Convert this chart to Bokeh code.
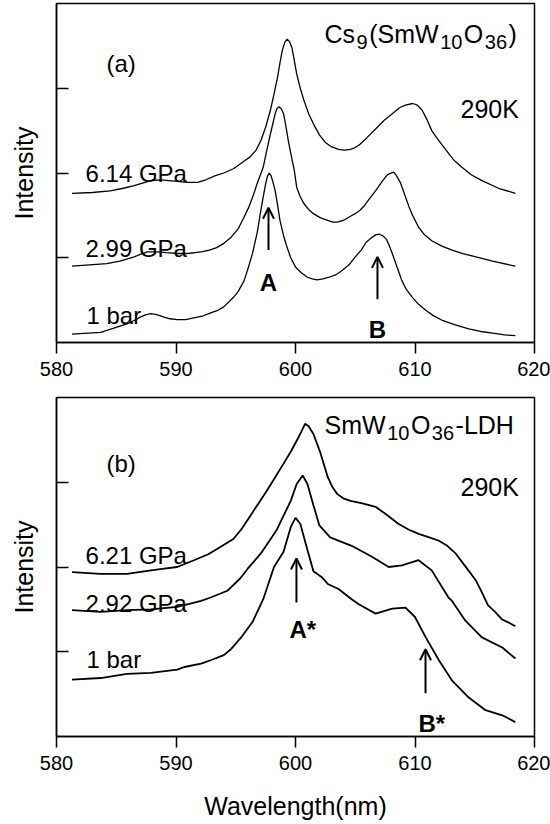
from bokeh.plotting import figure
from bokeh.models import Label, Arrow, OpenHead
from bokeh.layouts import column
from bokeh.embed import file_html
from bokeh.resources import INLINE

FONT = "Liberation Sans"

# ---------------- panel (a): Cs9(SmW10O36), 290K ----------------
a_bar_x = [581.3, 583.7, 585.9, 586.5, 587.0, 587.5, 587.9, 588.4, 589.0, 589.5, 590.1,
           590.8, 591.5, 592.2, 592.9, 593.5, 594.0, 594.8, 595.2, 595.7, 596.0, 596.4,
           596.8, 597.1, 597.3, 597.5, 597.65, 597.8, 597.95, 598.1, 598.3, 598.5, 598.7,
           599.0, 599.3, 599.6, 600.0, 600.5, 601.0, 601.4, 601.8, 602.3, 602.8, 603.4,
           603.9, 604.5, 605.0, 605.5, 605.9, 606.3, 606.7, 607.0, 607.3, 607.6, 607.8,
           608.1, 608.4, 608.6, 608.9, 609.3, 609.8, 610.3, 610.9, 611.5, 612.3, 613.3,
           614.5, 615.5, 616.5, 617.5, 618.4]
a_bar_y = [0.10, 0.12, 0.22, 0.26, 0.30, 0.33, 0.34, 0.33, 0.30, 0.28, 0.27,
           0.27, 0.29, 0.31, 0.35, 0.38, 0.42, 0.53, 0.60, 0.73, 0.86, 1.05,
           1.30, 1.56, 1.72, 1.87, 1.96, 2.00, 1.97, 1.90, 1.79, 1.62, 1.44,
           1.26, 1.12, 1.00, 0.89, 0.82, 0.77, 0.75, 0.74, 0.75, 0.77, 0.80,
           0.85, 0.92, 1.01, 1.09, 1.18, 1.23, 1.27, 1.28, 1.26, 1.22, 1.16,
           1.05, 0.93, 0.85, 0.73, 0.62, 0.53, 0.45, 0.38, 0.32, 0.26, 0.21,
           0.16, 0.13, 0.11, 0.09, 0.08]

a_299_x = [581.3, 584.2, 585.3, 586.5, 587.0, 587.6, 588.4, 589.2, 590.1, 591.0, 592.1,
           592.8, 593.4, 594.0, 594.6, 595.2, 595.7, 596.1, 596.5, 596.8, 597.1, 597.3,
           597.6, 597.9, 598.3, 598.45, 598.6, 598.8, 599.0, 599.2, 599.4, 599.65, 599.9,
           600.1, 600.4, 600.7, 601.1, 601.5, 602.1, 602.7, 603.1, 603.5, 604.0, 604.6,
           605.0, 605.4, 605.8, 606.1, 606.7, 607.0, 607.3, 607.7, 608.2, 608.4, 608.6,
           608.8, 609.0, 609.5, 609.8, 610.3, 610.8, 611.4, 612.2, 613.1, 614.0, 615.1,
           616.5, 618.4]
a_299_y = [0.90, 0.93, 0.96, 1.01, 1.04, 1.07, 1.07, 1.06, 1.05, 1.05, 1.07,
           1.09, 1.12, 1.17, 1.24, 1.34, 1.48, 1.60, 1.75, 1.88, 1.99, 2.07,
           2.27, 2.46, 2.70, 2.76, 2.78, 2.76, 2.70, 2.55, 2.38, 2.20, 2.03,
           1.83, 1.72, 1.64, 1.57, 1.52, 1.47, 1.44, 1.42, 1.42, 1.44, 1.49,
           1.52, 1.56, 1.62, 1.68, 1.79, 1.85, 1.91, 1.98, 2.01, 1.98, 1.93,
           1.88, 1.80, 1.60, 1.50, 1.36, 1.27, 1.20, 1.14, 1.09, 1.05, 1.01,
           0.96, 0.90]

a_614_x = [581.3, 583.0, 584.5, 585.6, 586.5, 587.2, 587.9, 588.7, 589.4, 590.1, 590.9,
           591.8, 592.5, 593.3, 594.0, 594.8, 595.4, 595.8, 596.2, 596.7, 597.1, 597.5,
           597.9, 598.2, 598.5, 598.7, 598.9, 599.1, 599.3, 599.5, 599.7, 599.9, 600.1,
           600.4, 600.7, 601.1, 601.5, 602.0, 602.5, 603.0, 603.6, 604.1, 604.6, 605.0,
           605.4, 606.0, 606.7, 607.4, 608.1, 608.7, 609.2, 609.8, 610.2, 610.6, 611.0,
           611.4, 611.9, 612.6, 613.2, 613.9, 614.7, 615.6, 617.0, 618.4]
a_614_y = [1.76, 1.77, 1.79, 1.82, 1.85, 1.88, 1.91, 1.92, 1.91, 1.90, 1.89,
           1.89, 1.92, 1.97, 2.00, 2.05, 2.11, 2.15, 2.19, 2.27, 2.38, 2.54,
           2.74, 2.93, 3.13, 3.30, 3.45, 3.54, 3.58, 3.55, 3.48, 3.33, 3.17,
           3.00, 2.86, 2.70, 2.58, 2.45, 2.36, 2.31, 2.28, 2.27, 2.28, 2.30,
           2.34, 2.42, 2.52, 2.62, 2.70, 2.77, 2.80, 2.82, 2.80, 2.74, 2.63,
           2.50, 2.40, 2.27, 2.16, 2.07, 1.98, 1.91, 1.82, 1.76]

# ---------------- panel (b): SmW10O36-LDH, 290K ----------------
b_bar_x = [581.3, 583.7, 585.9, 587.9, 590.1, 590.7, 592.1, 592.9, 594.0, 594.6, 595.4,
           596.4, 597.3, 598.2, 599.0, 599.6, 600.0, 600.4, 601.0, 601.5, 602.2, 602.7,
           603.6, 604.7, 605.3, 606.7, 608.1, 609.2, 610.0, 610.9, 612.0, 613.1, 614.5,
           615.9, 617.3, 618.4]
b_bar_y = [0.67, 0.69, 0.74, 0.75, 0.79, 0.82, 0.86, 0.90, 0.96, 1.03, 1.16,
           1.35, 1.62, 2.00, 2.18, 2.47, 2.58, 2.51, 2.20, 1.95, 1.88, 1.80,
           1.74, 1.62, 1.56, 1.45, 1.51, 1.52, 1.41, 1.17, 0.90, 0.66, 0.46,
           0.31, 0.25, 0.17]

b_292_x = [581.3, 583.7, 585.9, 587.9, 590.1, 590.7, 592.1, 592.9, 594.3, 594.6, 595.4,
           596.0, 597.1, 598.4, 599.6, 600.1, 600.6, 601.0, 601.5, 602.0, 602.9, 604.7,
           606.4, 607.8, 608.9, 610.3, 611.4, 612.8, 613.1, 614.2, 615.6, 617.3, 618.4]
b_292_y = [1.49, 1.47, 1.49, 1.50, 1.53, 1.55, 1.60, 1.64, 1.72, 1.76, 1.87,
           1.98, 2.16, 2.43, 2.78, 2.98, 3.08, 2.98, 2.73, 2.49, 2.35, 2.25,
           2.12, 2.00, 2.02, 2.08, 1.96, 1.64, 1.60, 1.37, 1.17, 1.05, 0.92]

b_621_x = [581.3, 583.7, 585.9, 587.9, 589.0, 590.1, 591.5, 592.7, 593.4, 594.8, 595.5,
           596.2, 596.9, 597.6, 598.3, 599.0, 599.6, 600.1, 600.5, 600.8, 601.1, 601.5,
           602.1, 602.7, 603.1, 603.5, 604.0, 604.6, 605.6, 606.7, 607.6, 608.6, 609.5,
           610.3, 611.2, 612.0, 612.7, 613.4, 614.2, 615.1, 615.6, 616.1, 616.7, 617.3,
           617.9, 618.4]
b_621_y = [1.94, 1.92, 1.92, 1.96, 1.98, 2.00, 2.08, 2.15, 2.21, 2.33, 2.45,
           2.60, 2.75, 2.90, 3.06, 3.22, 3.36, 3.49, 3.60, 3.69, 3.66, 3.57,
           3.34, 3.06, 2.94, 2.86, 2.81, 2.78, 2.75, 2.71, 2.62, 2.51, 2.44,
           2.39, 2.35, 2.31, 2.25, 2.16, 2.01, 1.84, 1.70, 1.55, 1.47, 1.38,
           1.34, 1.30]

x_ticks = [580, 590, 600, 610, 620]
y_ticks = [1, 2, 3]

W = {'C': .722, 's': .5, '(': .333, ')': .333, 'S': .667, 'm': .833, 'W': .944,
     'O': .778, '-': .333, 'L': .556, 'D': .722, 'H': .722}
for d in "0123456789":
    W[d] = .556


def make_fig(top, bottom, xlabel):
    p = figure(frame_width=478, frame_height=339, min_border_left=56, min_border_right=16,
               min_border_top=top, min_border_bottom=bottom,
               x_range=(580, 620), y_range=(0, 4), toolbar_location=None,
               output_backend="svg", background_fill_color="white",
               border_fill_color="white")
    p.grid.visible = False
    p.outline_line_color = "black"
    p.outline_line_width = 1.5
    p.outline_line_alpha = 1.0
    xa = p.xaxis[0]
    xa.ticker = x_ticks
    xa.major_tick_out = 11
    xa.major_tick_in = 0
    xa.minor_tick_out = 0
    xa.minor_tick_in = 0
    xa.axis_line_width = 1.5
    xa.axis_line_color = "black"
    xa.major_tick_line_width = 1.5
    xa.major_tick_line_color = "black"
    xa.major_label_text_font = FONT
    xa.major_label_text_font_size = "20px"
    xa.major_label_text_color = "black"
    xa.major_label_standoff = 8
    if xlabel:
        xa.axis_label = xlabel
        xa.axis_label_text_font = FONT
        xa.axis_label_text_font_size = "25px"
        xa.axis_label_text_font_style = "normal"
        xa.axis_label_text_color = "black"
        xa.axis_label_standoff = 19
    ya = p.yaxis[0]
    ya.ticker = y_ticks
    ya.major_label_overrides = {t: "" for t in y_ticks}
    ya.major_tick_in = 12
    ya.major_tick_out = 0
    ya.minor_tick_in = 0
    ya.minor_tick_out = 0
    ya.axis_line_width = 1.5
    ya.axis_line_color = "black"
    ya.major_tick_line_width = 1.5
    ya.major_tick_line_color = "black"
    ya.major_label_standoff = 0
    ya.axis_label = "Intensity"
    ya.axis_label_text_font = FONT
    ya.axis_label_text_font_size = "25px"
    ya.axis_label_text_font_style = "normal"
    ya.axis_label_text_color = "black"
    ya.axis_label_standoff = 19
    return p


def lab(p, x, y, text, size=24, bold=False, align="left"):
    p.add_layout(Label(x=x, y=y, text=text, text_font=FONT, text_font_size=f"{size}px",
                       text_font_style="bold" if bold else "normal", text_align=align,
                       text_baseline="alphabetic", text_color="black"))


def rich(p, x, y, pieces, size=25, sub=20, drop=8, gap=1.5):
    off = 0.0
    for txt, is_sub in pieces:
        fs = sub if is_sub else size
        p.add_layout(Label(x=x, y=y, x_offset=off, y_offset=-drop if is_sub else 0,
                           text=txt, text_font=FONT, text_font_size=f"{fs}px",
                           text_baseline="alphabetic", text_color="black"))
        off += sum(W[c] for c in txt) * fs + gap


def arrow(p, x, y0, y1):
    p.add_layout(Arrow(x_start=x, y_start=y0, x_end=x, y_end=y1, line_width=2,
                       end=OpenHead(size=11, line_width=2)))


# ----- top panel -----
pa = make_fig(3, 44, None)
for xs, ys in [(a_bar_x, a_bar_y), (a_299_x, a_299_y), (a_614_x, a_614_y)]:
    pa.line(xs, ys, line_color="black", line_width=1.3)
lab(pa, 584.18, 3.29, "(a)")
lab(pa, 613.81, 2.76, "290K", size=25)
lab(pa, 582.43, 1.99, "6.14 GPa")
lab(pa, 582.43, 1.11, "2.99 GPa")
lab(pa, 582.51, 0.32, "1 bar")
rich(pa, 602.43, 3.646, [("Cs", False), ("9", True), ("(SmW", False), ("10", True),
                          ("O", False), ("36", True), (")", False)])
arrow(pa, 597.74, 1.09, 1.59)
arrow(pa, 606.86, 0.51, 1.01)
lab(pa, 597.74, 0.71, "A", bold=True, align="center")
lab(pa, 606.86, 0.15, "B", bold=True, align="center")

# ----- bottom panel -----
pb = make_fig(11, 88, "Wavelength(nm)")
for xs, ys in [(b_bar_x, b_bar_y), (b_292_x, b_292_y), (b_621_x, b_621_y)]:
    pb.line(xs, ys, line_color="black", line_width=1.8)
lab(pb, 584.18, 3.22, "(b)")
lab(pb, 613.81, 2.94, "290K", size=25)
lab(pb, 582.43, 2.14, "6.21 GPa")
lab(pb, 582.43, 1.57, "2.92 GPa")
lab(pb, 582.51, 0.91, "1 bar")
rich(pb, 602.43, 3.67, [("SmW", False), ("10", True), ("O", False), ("36", True),
                         ("-LDH", False)])
arrow(pb, 600.08, 1.58, 2.10)
arrow(pb, 610.88, 0.51, 1.03)
lab(pb, 599.50, 1.26, "A*", bold=True)
lab(pb, 610.29, 0.15, "B*", bold=True)

layout = column(pa, pb, spacing=0)
open("out.html", "w").write(file_html(layout, INLINE))
